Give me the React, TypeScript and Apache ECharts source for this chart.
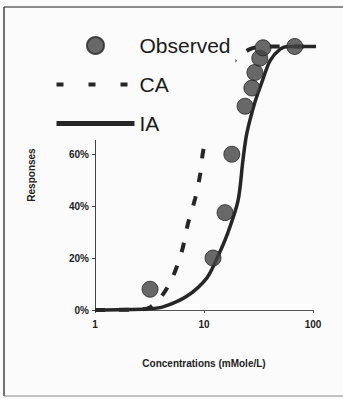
import React, { useEffect, useRef } from "react";
import * as echarts from "echarts";

const legendNames = ["Observed", "CA", "IA"];
const xTickLabels = ["1", "10", "100"];
const observed: [number, number][] = [
  [3.2, 0.08], [12.1, 0.2], [15.6, 0.375], [18, 0.6], [23.8, 0.785],
  [27.5, 0.855], [29.3, 0.915], [32.5, 0.97], [34.8, 1.01], [68, 1.015],
];
const caCurve: [number, number][] = [
  [1, 0], [2.5, 0.002], [3.2, 0.01], [4.2, 0.06], [5.2, 0.13], [6.3, 0.23],
  [7.1, 0.33], [8.3, 0.43], [9.2, 0.52], [9.8, 0.61], [12, 0.79], [15, 0.9],
  [20, 0.97], [26.5, 1.005], [35, 1.015], [110, 1.015],
];
const iaCurve: [number, number][] = [
  [1, 0], [3, 0.004], [4.2, 0.012], [7, 0.054], [10.6, 0.123], [13.2, 0.2],
  [16.3, 0.29], [20.5, 0.42], [22.8, 0.58], [24.7, 0.68], [29.3, 0.8],
  [34.8, 0.89], [40.3, 0.96], [50, 1.005], [60, 1.015], [110, 1.015],
];

const FONT = "'Liberation Sans', Arial, sans-serif";
const hiddenSymbol = { color: "rgba(0,0,0,0)", borderWidth: 0, opacity: 0 };

export default function App() {
  const ref = useRef<HTMLDivElement>(null);
  useEffect(() => {
    if (!ref.current) return;
    const chart = echarts.init(ref.current, null, { renderer: "svg" });
    chart.setOption({
      animation: false,
      backgroundColor: "#fbfbfb",
      grid: { left: 95, right: 30, top: 40, bottom: 89 },
      graphic: [
        { type: "line", shape: { x1: 4, y1: 7, x2: 343, y2: 7 }, style: { stroke: "#666", lineWidth: 1.5 } },
        { type: "line", shape: { x1: 4, y1: 7, x2: 4, y2: 396 }, style: { stroke: "#444", lineWidth: 1.5 } },
        { type: "line", shape: { x1: 4, y1: 396, x2: 343, y2: 396 }, style: { stroke: "#888", lineWidth: 1 } },
      ],
      legend: {
        data: [
          { name: legendNames[0] },
          { name: legendNames[1], itemStyle: hiddenSymbol, lineStyle: { type: [7, 25], width: 4, dashOffset: 0 } },
          { name: legendNames[2], itemStyle: hiddenSymbol, lineStyle: { width: 5 } },
        ],
        orient: "vertical",
        left: 50,
        top: 25,
        padding: [10, 5, 6, 4],
        itemWidth: 78,
        itemHeight: 17,
        itemGap: 18,
        backgroundColor: "#fbfbfb",
        textStyle: { fontFamily: FONT, fontSize: 21, color: "#1a1a1a", lineHeight: 17 },
        z: 10,
      },
      xAxis: {
        type: "log",
        logBase: 10,
        min: 1,
        max: 100,
        name: "Concentrations (mMole/L)",
        nameLocation: "middle",
        nameGap: 48,
        nameTextStyle: { fontFamily: FONT, fontSize: 10, fontWeight: "bold", color: "#222" },
        axisLine: { lineStyle: { color: "#555", width: 1 } },
        axisTick: { show: true, length: 3, lineStyle: { color: "#555" } },
        minorTick: { show: false },
        splitLine: { show: false },
        axisLabel: {
          fontFamily: FONT, fontSize: 10, fontWeight: "bold", color: "#222", margin: 9,
          formatter: (v: number) => {
            const i = Math.round(Math.log10(v));
            return xTickLabels[i] ?? "";
          },
        },
      },
      yAxis: {
        type: "value",
        min: 0,
        max: 1.04,
        interval: 0.2,
        name: "Responses",
        nameLocation: "middle",
        nameGap: 59,
        nameTextStyle: { fontFamily: FONT, fontSize: 10, fontWeight: "bold", color: "#222" },
        axisLine: { show: true, lineStyle: { color: "#444", width: 1 } },
        axisTick: { show: true, length: 3, lineStyle: { color: "#444" } },
        splitLine: { show: false },
        axisLabel: {
          fontFamily: FONT, fontSize: 10, fontWeight: "bold", color: "#222", margin: 6,
          formatter: (v: number) => (v <= 0.6001 ? Math.round(v * 100) + "%" : ""),
        },
      },
      series: [
        {
          name: "Observed",
          type: "scatter",
          data: observed,
          symbol: "circle",
          symbolSize: 16,
          itemStyle: { color: "#444444", borderColor: "#262626", borderWidth: 1 },
          z: 3,
        },
        {
          name: "CA",
          type: "line",
          data: caCurve,
          symbol: "none",
          smooth: 0.3,
          clip: false,
          lineStyle: { color: "#262626", width: 4, type: [10, 14] },
          itemStyle: { color: "#262626" },
          z: 2,
        },
        {
          name: "IA",
          type: "line",
          data: iaCurve,
          symbol: "none",
          smooth: 0.3,
          clip: false,
          lineStyle: { color: "#262626", width: 3.5 },
          itemStyle: { color: "#262626" },
          z: 2,
        },
      ],
    });
    return () => chart.dispose();
  }, []);
  return <div ref={ref} style={{ position: "fixed", left: 0, top: 0, width: 343, height: 399 }} />;
}
